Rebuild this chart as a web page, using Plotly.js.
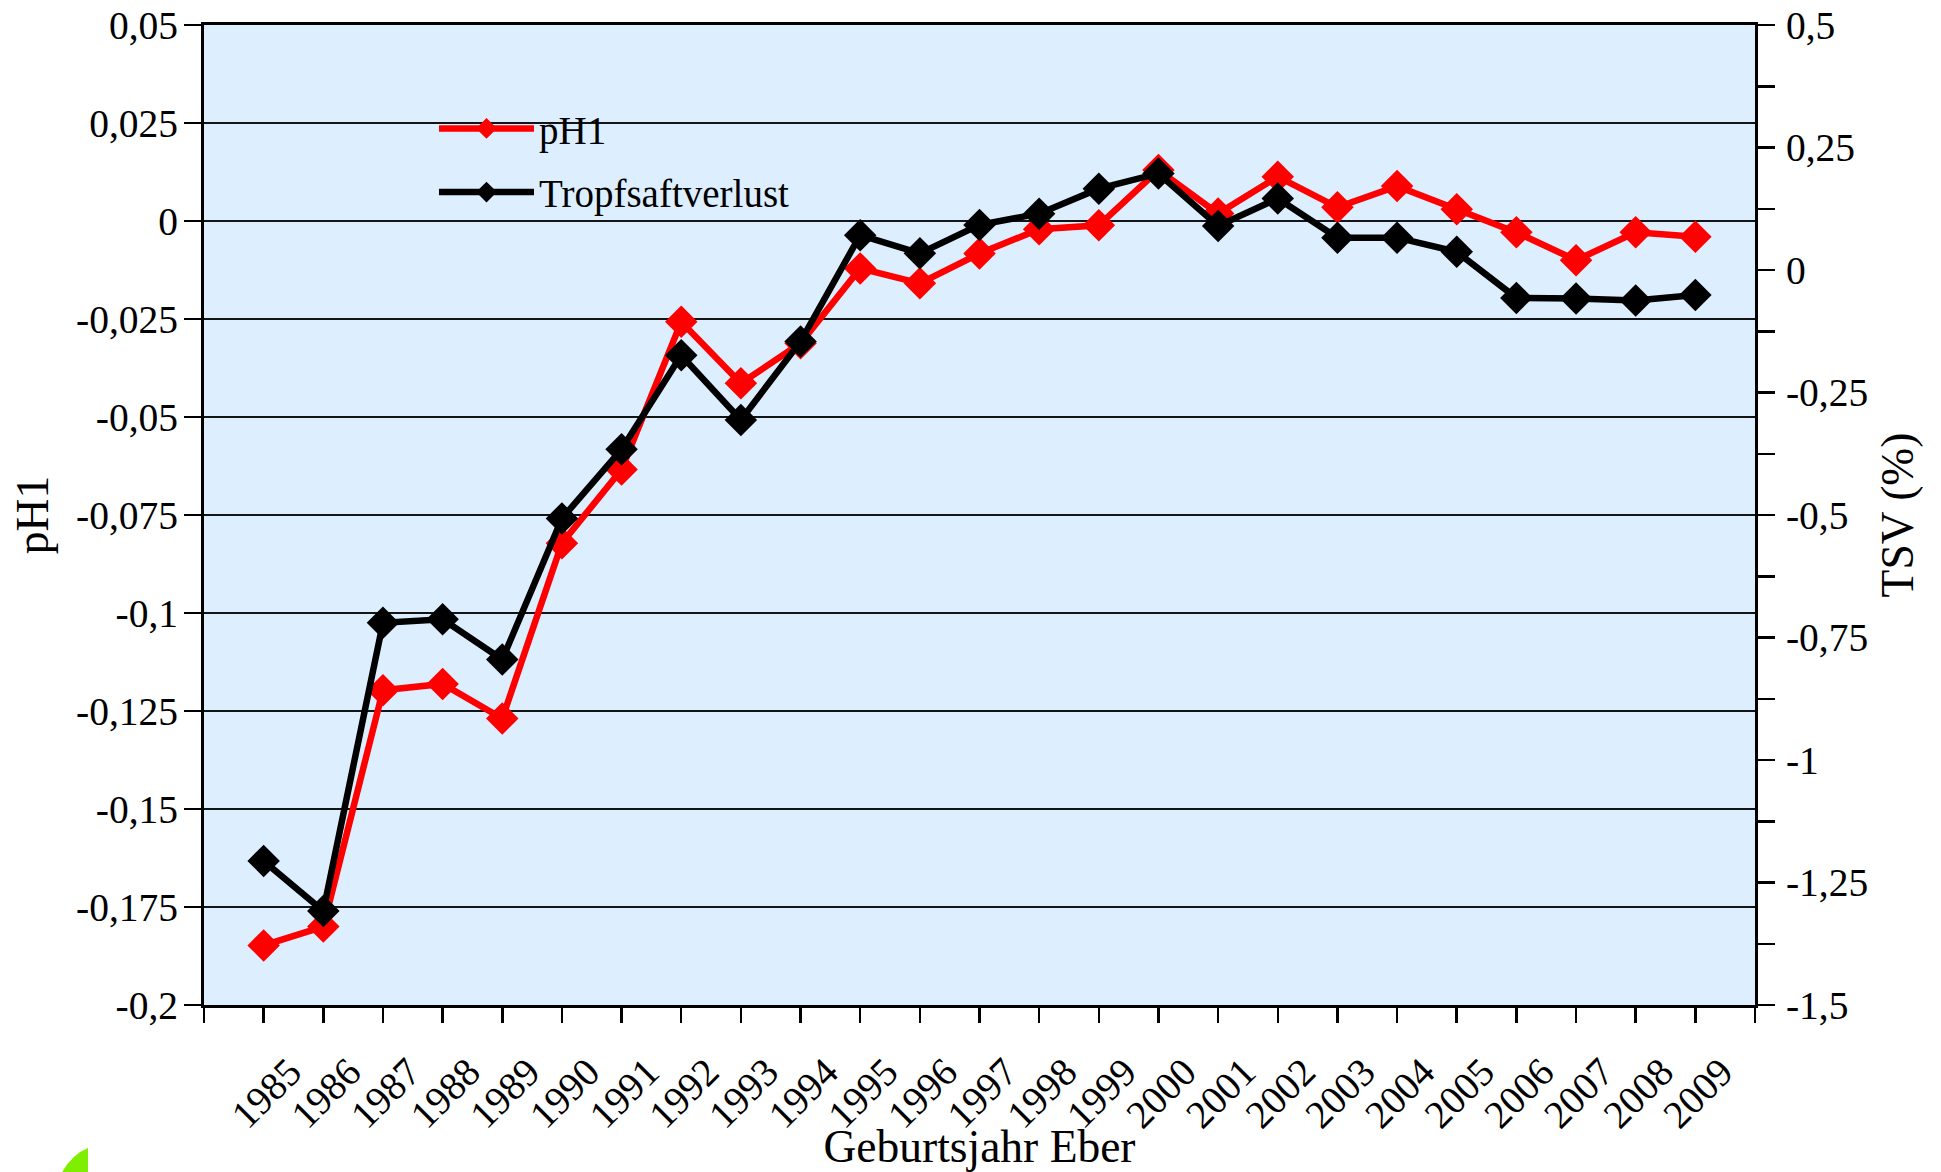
<!DOCTYPE html>
<html>
<head>
<meta charset="utf-8">
<script src="https://cdn.plot.ly/plotly-3.0.1.min.js"></script>
<style>
  html, body { margin: 0; padding: 0; background: #ffffff; }
  #chart { width: 1941px; height: 1172px; }
</style>
</head>
<body>
<div id="chart"></div>
<script>
// ---- data ----
const years = [1985, 1986, 1987, 1988, 1989, 1990, 1991, 1992, 1993, 1994, 1995, 1996, 1997,
               1998, 1999, 2000, 2001, 2002, 2003, 2004, 2005, 2006, 2007, 2008, 2009];
const pH1 = [-0.1848, -0.1800, -0.1197, -0.1181, -0.1269, -0.0822, -0.0634, -0.0257, -0.0414,
             -0.0312, -0.0121, -0.0159, -0.0083, -0.0021, -0.0011, 0.0130, 0.0019, 0.0113,
             0.0035, 0.0089, 0.0030, -0.0029, -0.0100, -0.0029, -0.0040];
const tsv = [-1.206, -1.308, -0.720, -0.713, -0.795, -0.507, -0.366, -0.174, -0.306, -0.146,
             0.071, 0.034, 0.092, 0.115, 0.166, 0.197, 0.090, 0.146, 0.066, 0.066, 0.037,
             -0.057, -0.058, -0.062, -0.051];

const seriesNames = ['pH1', 'Tropfsaftverlust'];
const xTickVals = [1984].concat(years, [2010]);
const xTickText = [''].concat(years.map(String), ['']);
const leftTickVals = [0.05, 0.025, 0, -0.025, -0.05, -0.075, -0.1, -0.125, -0.15, -0.175, -0.2];
const leftTickText = ['0,05', '0,025', '0', '-0,025', '-0,05', '-0,075', '-0,1', '-0,125', '-0,15', '-0,175', '-0,2'];
const rightTickVals = [0.5, 0.375, 0.25, 0.125, 0, -0.125, -0.25, -0.375, -0.5, -0.625, -0.75,
                       -0.875, -1, -1.125, -1.25, -1.375, -1.5];
const rightTickText = ['0,5', '', '0,25', '', '0', '', '-0,25', '', '-0,5', '', '-0,75', '',
                       '-1', '', '-1,25', '', '-1,5'];

// ---- styling ----
const FONT = 'Liberation Serif';
const PLOT_BG = '#DDEEFF';
const TICK_SIZE = 39.5;
const TITLE_SIZE = 45.5;

const traces = [
  {
    x: years, y: pH1, name: seriesNames[0], type: 'scatter', mode: 'lines+markers',
    yaxis: 'y', legendgroup: 'a',
    line: { color: '#FF0000', width: 6.5 },
    marker: { symbol: 'diamond', size: 25, color: '#FF0000' }
  },
  {
    x: years, y: tsv, name: seriesNames[1], type: 'scatter', mode: 'lines+markers',
    yaxis: 'y2', legendgroup: 'b',
    line: { color: '#000000', width: 6.5 },
    marker: { symbol: 'diamond', size: 25, color: '#000000' }
  }
];

const layout = {
  width: 1941, height: 1172,
  margin: { l: 204, r: 186, t: 25, b: 167, pad: 0 },
  paper_bgcolor: '#ffffff',
  plot_bgcolor: PLOT_BG,
  font: { family: FONT, size: TICK_SIZE, color: '#000000' },
  showlegend: true,
  legend: {
    x: 0.1483, y: 0.927, xanchor: 'left', yanchor: 'top',
    bgcolor: 'rgba(0,0,0,0)', borderwidth: 0,
    font: { family: FONT, size: 39, color: '#000000' },
    tracegroupgap: 10, itemwidth: 95, traceorder: 'grouped'
  },
  xaxis: {
    range: [1984, 2010], tickmode: 'array', tickvals: xTickVals, ticktext: xTickText,
    tickangle: -45, ticks: 'outside', ticklen: 15, tickwidth: 2.5, tickcolor: '#000000',
    ticklabelshift: 26, ticklabelstandoff: 10,
    showline: true, linewidth: 3, linecolor: '#000000', mirror: true,
    showgrid: false, zeroline: false, automargin: false,
    tickfont: { family: FONT, size: TICK_SIZE, color: '#000000' },
    title: { text: 'Geburtsjahr Eber', font: { family: FONT, size: TITLE_SIZE, color: '#000000' }, standoff: 4 }
  },
  yaxis: {
    range: [-0.2, 0.05], tickmode: 'array', tickvals: leftTickVals, ticktext: leftTickText,
    ticks: 'outside', ticklen: 17, tickwidth: 2.5, tickcolor: '#000000',
    ticklabelstandoff: -2,
    showline: true, linewidth: 3, linecolor: '#000000',
    showgrid: true, gridcolor: '#141414', gridwidth: 2.2, zeroline: false, automargin: false,
    tickfont: { family: FONT, size: TICK_SIZE, color: '#000000' },
    title: { text: 'pH1', font: { family: FONT, size: TITLE_SIZE, color: '#000000' }, standoff: 14 }
  },
  yaxis2: {
    range: [-1.5, 0.5], overlaying: 'y', side: 'right', anchor: 'x',
    tickmode: 'array', tickvals: rightTickVals, ticktext: rightTickText,
    ticks: 'outside', ticklen: 17, tickwidth: 2.5, tickcolor: '#000000',
    ticklabelstandoff: 3,
    showline: true, linewidth: 3, linecolor: '#000000',
    showgrid: false, zeroline: false, automargin: false,
    tickfont: { family: FONT, size: TICK_SIZE, color: '#000000' },
    title: { text: 'TSV (%)', font: { family: FONT, size: TITLE_SIZE, color: '#000000' }, standoff: 14 }
  },
  shapes: [
    // gap in the 0,025 gridline behind the legend (as in the reference)
    { type: 'rect', xref: 'paper', yref: 'paper', x0: 0.1315, x1: 0.2669, y0: 0.8947, y1: 0.9049,
      fillcolor: PLOT_BG, line: { width: 0 }, layer: 'between' },
    // small green fragment at the bottom-left corner of the picture
    { type: 'path', xref: 'paper', yref: 'paper',
      path: 'M -0.0748,-0.1459 Q -0.0864,-0.1530 -0.0941,-0.1780 L -0.0748,-0.1780 Z',
      fillcolor: '#80EE00', line: { width: 0 }, layer: 'above' }
  ]
};

Plotly.newPlot('chart', traces, layout, { displayModeBar: false, staticPlot: true });
</script>
</body>
</html>
